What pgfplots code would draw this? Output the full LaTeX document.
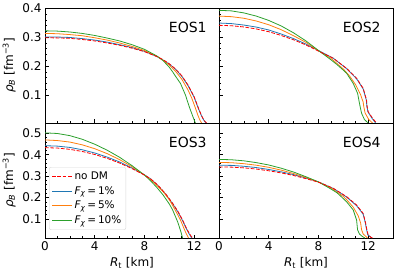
\documentclass[border=0pt]{standalone}
\usepackage{fontspec}
\setmainfont{DejaVu Sans}
\usepackage{pgfplots}
\pgfplotsset{compat=1.18}
\usepgfplotslibrary{groupplots}
\definecolor{c0}{HTML}{1F77B4}
\definecolor{c1}{HTML}{FF7F0E}
\definecolor{c2}{HTML}{2CA02C}
\pgfplotsset{
  every axis/.append style={
    scale only axis, width=174pt, height=115pt,
    xmin=0, xmax=14, xtick={0,4,8,12}, minor x tick num=3,
    tick align=inside, xtick pos=lower, ytick pos=left,
    major tick length=3.5pt, minor tick length=2pt,
    every tick/.style={black, line width=0.6pt},
    axis line style={line width=0.8pt},
    /pgf/number format/assume math mode=true,
    tick label style={font=\fontsize{12}{12}\selectfont},
    yticklabel style={/pgf/number format/.cd, fixed, fixed zerofill, precision=1},
    label style={font=\fontsize{12}{14}\selectfont},
    minor y tick num=4,
  },
  rd/.style={red, line width=0.8pt, dash pattern=on 3.7pt off 1.6pt},
  bl/.style={c0, line width=0.8pt},
  og/.style={c1, line width=0.8pt},
  gr/.style={c2, line width=0.8pt},
}
\newcommand{\eos}[1]{\node[anchor=east, inner sep=0pt, font=\fontsize{14}{14}\selectfont] at (rel axis cs:0.93,0.83) {#1};}
\begin{document}
\begin{tikzpicture}
\begin{groupplot}[group style={group size=2 by 2, horizontal sep=0pt, vertical sep=0pt,
  xticklabels at=edge bottom, yticklabels at=edge left}]
% EOS1
\nextgroupplot[ymin=0.003, ymax=0.401, ytick={0.1,0.2,0.3,0.4},
  ylabel={\textit{ρ}\textsubscript{\textit{B}} [fm\textsuperscript{−3}]}]
\addplot[bl] coordinates {(0,0.301)(1,0.3005)(2,0.299)(3,0.295)(4,0.290)(5,0.283)(6,0.274)(7,0.264)(8,0.251)(9,0.233)(9.5,0.221)(10,0.207)(10.5,0.189)(11,0.165)(11.5,0.133)(12,0.092)(12.35,0.052)(12.6,0.027)(12.8,0.011)(12.95,0.003)};
\addplot[og] coordinates {(0,0.313)(1,0.312)(2,0.309)(3,0.305)(4,0.298)(5,0.290)(6,0.280)(7,0.268)(8,0.254)(9,0.234)(9.5,0.220)(10,0.203)(10.5,0.182)(11,0.155)(11.5,0.118)(11.8,0.090)(12.1,0.055)(12.3,0.030)(12.45,0.014)(12.6,0.003)};
\addplot[gr] coordinates {(0,0.322)(1,0.321)(2,0.318)(3,0.313)(4,0.306)(5,0.297)(6,0.287)(7,0.274)(8,0.258)(9,0.235)(9.5,0.219)(10,0.196)(10.27,0.180)(10.5,0.165)(10.9,0.140)(11.3,0.100)(11.6,0.060)(11.9,0.025)(12.1,0.003)};
\addplot[rd] coordinates {(0,0.298)(1,0.2975)(2,0.296)(3,0.292)(4,0.287)(5,0.280)(6,0.272)(7,0.262)(8,0.250)(9,0.233)(9.5,0.222)(10,0.208)(10.5,0.190)(11,0.167)(11.5,0.135)(12,0.094)(12.35,0.054)(12.6,0.028)(12.8,0.012)(13.0,0.003)};
\eos{EOS1}
% EOS2
\nextgroupplot[ymin=0.003, ymax=0.401, ytick={0.1,0.2,0.3,0.4}]
\addplot[bl] coordinates {(0,0.349)(1,0.347)(2,0.342)(3,0.335)(4,0.325)(5,0.311)(6,0.295)(7,0.276)(8,0.254)(9.2,0.227)(10.27,0.191)(11.07,0.156)(11.6,0.121)(11.85,0.083)(11.9,0.060)(11.98,0.042)(12.3,0.020)(12.6,0.003)};
\addplot[og] coordinates {(0,0.373)(1,0.371)(2,0.3655)(3,0.356)(4,0.343)(5,0.326)(6,0.305)(7,0.282)(8,0.253)(9,0.227)(10,0.190)(10.5,0.166)(11,0.135)(11.4,0.100)(11.6,0.075)(11.65,0.060)(11.75,0.038)(12.05,0.015)(12.35,0.003)};
\addplot[gr] coordinates {(0,0.393)(1,0.391)(2,0.384)(3,0.373)(4,0.358)(5,0.339)(6,0.315)(7,0.287)(8,0.254)(8.5,0.238)(9,0.222)(9.5,0.205)(10,0.186)(10.27,0.175)(10.8,0.140)(11.15,0.106)(11.33,0.065)(11.47,0.037)(11.7,0.015)(12.0,0.003)};
\addplot[rd] coordinates {(0,0.341)(1,0.3396)(2,0.3354)(3,0.3285)(4,0.319)(5,0.306)(6,0.291)(7,0.273)(8,0.252)(9.2,0.227)(10.27,0.192)(11.07,0.158)(11.6,0.123)(11.87,0.083)(11.92,0.060)(12.0,0.042)(12.35,0.020)(12.67,0.003)};
\eos{EOS2}
% EOS3
\nextgroupplot[ymin=0.011, ymax=0.548, ytick={0.1,0.2,0.3,0.4,0.5},
  ylabel={\textit{ρ}\textsubscript{\textit{B}} [fm\textsuperscript{−3}]},
  xlabel={\textit{R}\textsubscript{t} [km]},
  legend style={at={(axis description cs:0.023,0.07)}, anchor=south west,
    font=\fontsize{10.5}{12}\selectfont, draw=black!15, rounded corners=2pt,
    fill=white, fill opacity=0.8, text opacity=1, row sep=1.5pt, inner sep=2.5pt},
  legend cell align=left,
  legend image code/.code={\draw[#1] (0pt,0pt) -- (20pt,0pt);}]
\addlegendimage{rd}\addlegendentry{no DM}
\addlegendimage{bl}\addlegendentry{\textit{F}\textsubscript{\textit{χ}}\,=\,1\%}
\addlegendimage{og}\addlegendentry{\textit{F}\textsubscript{\textit{χ}}\,=\,5\%}
\addlegendimage{gr}\addlegendentry{\textit{F}\textsubscript{\textit{χ}}\,=\,10\%}
\addplot[bl, forget plot] coordinates {(0,0.442)(1,0.440)(2,0.434)(3,0.423)(4,0.408)(5,0.389)(6,0.366)(7,0.338)(8,0.306)(8.5,0.287)(9,0.261)(9.2,0.249)(9.7,0.216)(10.27,0.171)(10.7,0.132)(11.07,0.092)(11.35,0.057)(11.6,0.030)(11.8,0.011)};
\addplot[og, forget plot] coordinates {(0,0.469)(1,0.466)(2,0.459)(3,0.446)(4,0.428)(5,0.405)(6,0.377)(7,0.344)(8,0.305)(8.5,0.284)(9,0.257)(9.5,0.228)(10,0.190)(10.27,0.163)(10.6,0.128)(10.9,0.095)(11.15,0.060)(11.35,0.033)(11.55,0.011)};
\addplot[gr, forget plot] coordinates {(0,0.502)(1,0.499)(2,0.489)(3,0.472)(4,0.449)(5,0.421)(6,0.388)(7,0.349)(8,0.305)(8.5,0.278)(9,0.247)(9.5,0.212)(10,0.170)(10.27,0.142)(10.67,0.087)(10.93,0.041)(11.07,0.011)};
\addplot[rd, forget plot] coordinates {(0,0.433)(1,0.431)(2,0.425)(3,0.415)(4,0.401)(5,0.383)(6,0.361)(7,0.335)(8,0.305)(8.5,0.287)(9,0.262)(9.2,0.250)(9.7,0.218)(10.27,0.173)(10.7,0.135)(11.07,0.095)(11.35,0.060)(11.6,0.033)(11.75,0.020)(11.87,0.011)};
\eos{EOS3}
% EOS4
\nextgroupplot[ymin=0.011, ymax=0.548, ytick={0.1,0.2,0.3,0.4,0.5},
  xlabel={\textit{R}\textsubscript{t} [km]}]
\addplot[bl] coordinates {(0,0.351)(1,0.350)(2,0.346)(3,0.340)(4,0.331)(5,0.320)(6,0.307)(7,0.291)(8,0.273)(9.2,0.242)(10.27,0.202)(11.07,0.162)(11.6,0.122)(11.78,0.080)(11.85,0.057)(11.97,0.026)(12.3,0.011)};
\addplot[og] coordinates {(0,0.364)(1,0.3626)(2,0.358)(3,0.351)(4,0.341)(5,0.328)(6,0.312)(7,0.294)(8,0.272)(9,0.245)(10,0.205)(10.27,0.190)(10.8,0.155)(11.2,0.115)(11.4,0.080)(11.47,0.050)(11.6,0.030)(11.95,0.011)};
\addplot[gr] coordinates {(0,0.378)(1,0.3764)(2,0.3714)(3,0.363)(4,0.352)(5,0.337)(6,0.319)(7,0.297)(8,0.273)(9,0.240)(9.5,0.222)(10,0.195)(10.27,0.180)(10.8,0.142)(11.07,0.095)(11.15,0.049)(11.3,0.030)(11.47,0.021)(11.73,0.011)};
\addplot[rd] coordinates {(0,0.343)(1,0.342)(2,0.3385)(3,0.333)(4,0.325)(5,0.315)(6,0.303)(7,0.288)(8,0.272)(9.2,0.243)(10.27,0.204)(11.07,0.165)(11.6,0.126)(11.8,0.080)(11.87,0.057)(12.0,0.026)(12.2,0.015)(12.35,0.011)};
\eos{EOS4}
\end{groupplot}
\pgfresetboundingbox
\path ([shift={(-45pt,8pt)}]group c1r1.north west) rectangle ([shift={(6pt,-38pt)}]group c2r2.south east);
\end{tikzpicture}
\end{document}
